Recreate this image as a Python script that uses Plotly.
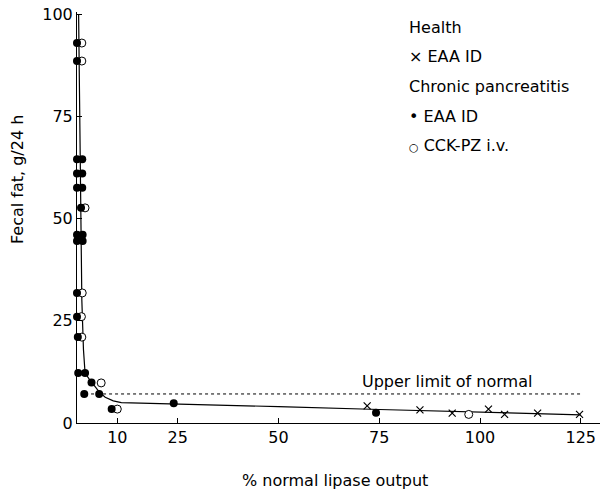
import plotly.graph_objects as go

# ---- data ----
cp_eaa_x = [0, 0, 0, 1.3, 0, 1.3, 0, 1.3, 1.0, 0, 1.4, 0, 1.4, 0, 0, 0.2, 0.3, 2.0, 3.6, 1.8, 5.5, 8.6, 24.0, 74.2]
cp_eaa_y = [92.9, 88.5, 64.5, 64.5, 61.0, 61.0, 57.5, 57.5, 52.6, 46.0, 46.0, 44.5, 44.5, 31.8, 26.0, 21.0, 12.2, 12.2, 9.9, 7.1, 7.1, 3.4, 4.8, 2.5]

cck_x = [1.2, 1.2, 2.0, 1.3, 1.1, 1.2, 6.0, 10.0, 97.2]
cck_y = [92.9, 88.5, 52.6, 31.8, 26.0, 21.0, 9.8, 3.4, 2.1]

health_x = [72.0, 85.1, 93.1, 102.1, 106.1, 114.3, 124.7]
health_y = [4.2, 3.2, 2.4, 3.4, 2.1, 2.4, 2.1]

curve_x = [0.4, 0.8, 1.2, 1.6, 2.0, 3.0, 4.0, 5.5, 7.0, 9.0, 11.0, 15.0, 25.0, 50.0, 75.0, 100.0, 125.0]
curve_y = [100.0, 60.0, 30.0, 18.0, 12.2, 10.8, 9.4, 7.6, 6.3, 5.4, 5.0, 4.9, 4.8, 4.0, 3.3, 2.7, 2.0]

limit_x = [2.0, 125.0]
limit_y = [7.1, 7.1]
limit_label = "Upper limit of normal"

x_ticks = [10, 25, 50, 75, 100, 125]
y_ticks = [0, 25, 50, 75, 100]

legend_lines = ["Health", "\u00d7 EAA ID", "Chronic pancreatitis", "\u2022 EAA ID",
                "<span style='font-size:11px'>\u25cb</span> CCK-PZ i.v."]

# ---- figure ----
W, H = 604, 490
ML, MR, MT, MB = 77, 4, 12, 67
PW, PH = W - ML - MR, H - MT - MB
FONT = "DejaVu Sans"


def px(xp):
    return (xp - ML) / PW


def py(yp):
    return (H - MB - yp) / PH


fig = go.Figure()
fig.add_trace(go.Scatter(x=curve_x, y=curve_y, mode="lines",
                         line=dict(color="black", width=1.2), cliponaxis=False,
                         hoverinfo="skip"))
fig.add_trace(go.Scatter(x=limit_x, y=limit_y, mode="lines",
                         line=dict(color="black", width=1, dash="3px,3px"),
                         hoverinfo="skip"))
fig.add_trace(go.Scatter(x=health_x, y=health_y, mode="markers", cliponaxis=False,
                         marker=dict(symbol="x-thin-open", size=7, color="black",
                                     line=dict(color="black", width=1.2))))
fig.add_trace(go.Scatter(x=cck_x, y=cck_y, mode="markers", cliponaxis=False,
                         marker=dict(symbol="circle", size=8, color="white",
                                     line=dict(color="black", width=1))))
fig.add_trace(go.Scatter(x=cp_eaa_x, y=cp_eaa_y, mode="markers", cliponaxis=False,
                         marker=dict(symbol="circle", size=8, color="black",
                                     line=dict(color="black", width=0))))

annotations = [
    dict(x=91.7, y=10.1, xref="x", yref="y", text=limit_label, showarrow=False,
         xanchor="center", yanchor="middle",
         font=dict(size=16, family=FONT, color="black")),
    dict(x=px(18), y=py(180), xref="paper", yref="paper", text="Fecal fat, g/24 h",
         textangle=-90, showarrow=False, xanchor="center", yanchor="middle",
         font=dict(size=16, family=FONT, color="black")),
    dict(x=px(335), y=py(480), xref="paper", yref="paper", text="% normal lipase output",
         showarrow=False, xanchor="center", yanchor="middle",
         font=dict(size=16, family=FONT, color="black")),
]
legend_y = [28, 57, 86, 116, 145]
for t, yy in zip(legend_lines, legend_y):
    annotations.append(dict(x=px(407), y=py(yy), xref="paper", yref="paper", text=t,
                            xanchor="left", yanchor="middle", showarrow=False,
                            font=dict(size=16, family=FONT, color="black")))

fig.update_layout(
    width=W, height=H,
    margin=dict(l=ML, r=MR, t=MT, b=MB),
    paper_bgcolor="white", plot_bgcolor="white",
    showlegend=False,
    font=dict(family=FONT, size=16, color="black"),
    annotations=annotations,
    xaxis=dict(range=[0, PW / 4.03], tickvals=x_ticks, ticks="inside", ticklen=5,
               tickcolor="black", showline=True, linecolor="black", linewidth=1,
               showgrid=False, zeroline=False, tickfont=dict(size=16)),
    yaxis=dict(range=[0, PH / 4.09], tickvals=y_ticks, ticks="inside", ticklen=5,
               tickcolor="black", showline=True, linecolor="black", linewidth=1,
               showgrid=False, zeroline=False, tickfont=dict(size=16)),
)

fig.write_html("out.html",
               config={"displayModeBar": False},
               post_script="document.body.style.margin='0';document.body.style.overflow='hidden';")
